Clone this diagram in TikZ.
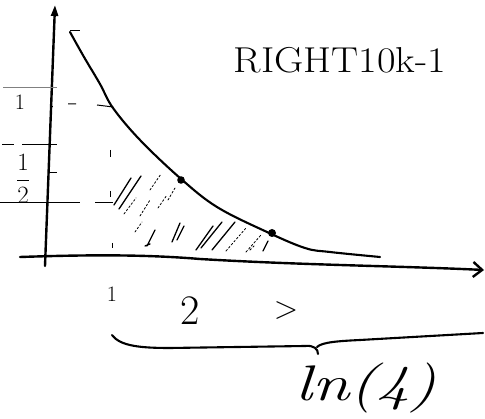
\documentclass[tikz,border=0pt]{standalone}
\usetikzlibrary{arrows.meta}
\begin{document}
\begin{tikzpicture}[x=1pt,y=-1pt,
  axisline/.style={line width=2.4pt,line cap=round},
  curveline/.style={line width=2.1pt,line cap=round},
  guide/.style={line width=1pt},
  hatch/.style={line width=1.3pt,line cap=round},
  hatchlight/.style={line width=0.8pt,dash pattern=on 2pt off 2pt,line cap=round},
  lbl/.style={inner sep=0pt,font=\fontsize{22}{24}\selectfont}]
\useasboundingbox (0,0) rectangle (485,419);
% axes
\coordinate (yb) at (45,266);
\coordinate (yt) at (55,5);
\draw[axisline,-{Triangle[length=11pt,width=7pt]}] (yb) -- (yt);
\coordinate (xl) at (20,257);
\coordinate (xr) at (484,270);
\draw[axisline,-{Straight Barb[length=9pt,width=15pt]}] (xl) .. controls (80,255) and (140,254) .. (200,259) .. controls (300,265) and (400,266) .. (xr);
% curve
\draw[curveline] plot[smooth,tension=0.6] coordinates {(70,32) (84,57) (100,84) (113,108) (140,140) (180,178) (217,207) (267,232) (305,248) (330,252) (380,257)};
\draw[guide] (70,31) -- (80,31);
% dots
\fill (181,180) circle (3.8pt);
\fill (272,233) circle (4pt);
% left guide lines
\draw[guide,gray] (3,88) -- (57,88);
\draw[guide] (2,145) -- (14,145) (22,145) -- (57,145);
\draw[guide] (0,203) -- (80,203) (95,203) -- (113,203);
\draw[guide] (68,104) -- (76,104) (97,105) -- (113,107);
\draw[guide] (110,150) -- (110,157) (110,191) -- (110,197) (112,243) -- (112,248);
\draw[guide] (50,173) -- (57,173) (50,107) -- (53,107);
% hatching
\draw[hatch] (114,205) -- (131,178) (119,209) -- (141,176) (147,246) -- (155,230) (145,246) -- (150,244)
  (172,242) -- (180,223) (177,240) -- (184,226) (196,250) -- (213,226) (201,248) -- (222,222)
  (212,250) -- (235,222) (263,251) -- (268,241);
\draw[hatchlight] (124,214) -- (136,198) (140,216) -- (150,200) (150,190) -- (161,174) (158,208) -- (167,195)
  (168,200) -- (175,188) (226,251) -- (246,228) (246,252) -- (261,235) (135,232) -- (142,222) (250,250) -- (254,246);
% labels
\node[lbl] (one) at (20,102) {1};
\node[inner sep=0pt,font=\fontsize{24}{26}\selectfont] (half) at (23,179) {$\displaystyle\frac{1}{2}$};
\node[lbl] (xa) at (112,294) {1};
\node[inner sep=0pt,font=\fontsize{42}{46}\selectfont] (xb) at (190,311) {2};
\node[inner sep=0pt,font=\fontsize{32}{36}\selectfont] (xc) at (286,311) {>};
\node[inner sep=0pt,xscale=1.12,font=\fontsize{36}{40}\selectfont] (title) at (340,60) {RIGHT10k-1};
% brace
\coordinate (bl) at (112,335);
\coordinate (bt) at (318,354);
\coordinate (br) at (483,333);
\draw[curveline] (bl) .. controls (120,346) and (140,348) .. (170,348) -- (305,346) .. controls (314,345) and (318,349) .. (bt);
\draw[curveline] (317,347) .. controls (322,342) and (340,341) .. (360,340) -- (br);
\node[inner sep=0pt,xscale=1.35,font=\itshape\fontsize{50}{54}\selectfont] (ln) at (366,388) {ln(4)};
\end{tikzpicture}
\end{document}
